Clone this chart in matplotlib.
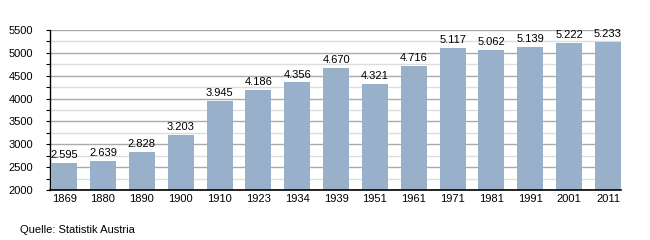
import matplotlib
matplotlib.use("Agg")
from matplotlib import pyplot as plt
from matplotlib.ticker import MultipleLocator
import numpy as np

years = ["1869", "1880", "1890", "1900", "1910", "1923", "1934", "1939",
         "1951", "1961", "1971", "1981", "1991", "2001", "2011"]
population = [2595, 2639, 2828, 3203, 3945, 4186, 4356, 4670,
              4321, 4716, 5117, 5062, 5139, 5222, 5233]

plt.rcParams['font.family'] = ['Liberation Sans', 'DejaVu Sans']

fig = plt.figure(figsize=(6.5, 2.4), dpi=100)
ax = fig.add_axes([50 / 650, 50 / 240, 571 / 650, 160 / 240])

x = np.arange(len(years))
w = 0.67
ax.bar(x, population, width=w, color="#98b0c9", zorder=3)

for xi, v in zip(x, population):
    label = "{:,}".format(v).replace(",", ".")
    ax.text(xi, v + 60, label, ha="center", va="bottom", fontsize=8,
            color="black", clip_on=False)

ax.set_ylim(2000, 5500)
ax.set_xlim(-w / 2 - 0.03, len(years) - 1 + w / 2)
ax.yaxis.set_major_locator(MultipleLocator(500))
ax.yaxis.set_minor_locator(MultipleLocator(250))
ax.grid(which="major", axis="y", color="#aaaaaa", linewidth=1, zorder=0)
ax.grid(which="minor", axis="y", color="#dddddd", linewidth=1, zorder=0)

ax.set_xticks(x)
ax.set_xticklabels(years)
ax.tick_params(axis="x", length=0, pad=3, labelsize=8)
ax.tick_params(axis="y", which="both", length=3, width=0.8, pad=9, labelsize=8)

for s in ["top", "right"]:
    ax.spines[s].set_visible(False)
ax.spines["left"].set_linewidth(1)
ax.spines["bottom"].set_linewidth(1.2)
ax.spines["bottom"].set_zorder(4)

fig.text(20 / 650, 1 - 230 / 240, "Quelle: Statistik Austria", fontsize=8,
         ha="left", va="center")

fig.savefig("out.png", dpi=100)
